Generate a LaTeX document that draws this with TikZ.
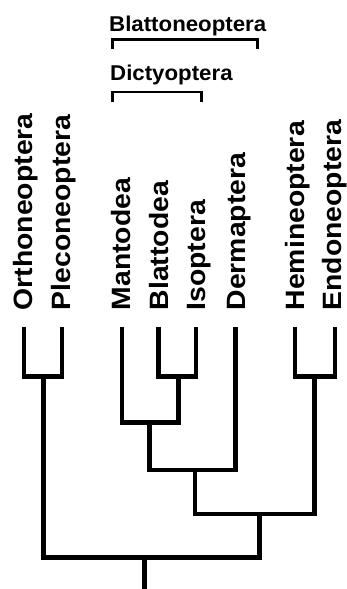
\documentclass[tikz,border=0pt]{standalone}
\usepackage{fontspec}
\setmainfont{Liberation Sans}
\begin{document}
\begin{tikzpicture}[x=1pt,y=-1pt,
  tree/.style={line width=4.6pt, line join=miter},
  brk/.style={line width=2.7pt, line join=miter},
  taxon/.style={rotate=90, anchor=base west, inner sep=0pt, font=\fontsize{26.5}{27}\selectfont\bfseries},
  clade/.style={anchor=base west, inner sep=0pt, font=\fontsize{21.4}{22}\selectfont\bfseries}]
\useasboundingbox (0,0) rectangle (347,589);
% taxon labels
\node[taxon] (lO) at (32.8,310.5) {\scalebox{1.07}[1]{Orthoneoptera}};
\node[taxon] (lP) at (70.8,310.5) {\scalebox{1.07}[1]{Pleconeoptera}};
\node[taxon] (lM) at (130.7,310.5) {\scalebox{1.07}[1]{Mantodea}};
\node[taxon] (lB) at (168,310.5) {\scalebox{1.07}[1]{Blattodea}};
\node[taxon] (lI) at (205,310.5) {\scalebox{1.07}[1]{Isoptera}};
\node[taxon] (lD) at (245.5,310.5) {\scalebox{1.07}[1]{Dermaptera}};
\node[taxon] (lH) at (304,310.5) {\scalebox{1.07}[1]{Hemineoptera}};
\node[taxon] (lE) at (341.2,310.5) {\scalebox{1.07}[1]{Endoneoptera}};
% clade labels
\node[clade] (cB) at (109,31.7) {\scalebox{1.04}[1]{Blattoneoptera}};
\node[clade] (cD) at (110,80.7) {\scalebox{1.04}[1]{Dictyoptera}};
% tips
\coordinate (tO) at (24,326.7);
\coordinate (tP) at (62,326.7);
\coordinate (tM) at (122,326.7);
\coordinate (tB) at (158.7,326.7);
\coordinate (tI) at (196,326.7);
\coordinate (tD) at (235.7,326.7);
\coordinate (tH) at (295,326.7);
\coordinate (tE) at (335,326.7);
% internal joins
\coordinate (jOP) at (43.3,376.7);
\coordinate (jBI) at (178.3,376.7);
\coordinate (jHE) at (314.3,376.7);
\coordinate (jMBI) at (149.7,422.3);
\coordinate (jMBID) at (195,470);
\coordinate (jMBIDHE) at (259.7,514);
\coordinate (jRoot) at (144.3,557.7);
\coordinate (root) at (144.3,589);
\draw[tree] (tO) |- (jOP) -| (tP);
\draw[tree] (tB) |- (jBI) -| (tI);
\draw[tree] (tH) |- (jHE) -| (tE);
\draw[tree] (tM) |- (jMBI) -| (jBI);
\draw[tree] (jMBI) |- (jMBID) -| (tD);
\draw[tree] (jMBID) |- (jMBIDHE) -| (jHE);
\draw[tree] (jOP) |- (jRoot) -| (jMBIDHE);
\draw[tree] (jRoot) -- (root);
% brackets
\coordinate (bBl) at (112.7,49);
\coordinate (bBtl) at (112.7,39.3);
\coordinate (bBtr) at (257.3,39.3);
\coordinate (bBr) at (257.3,48.5);
\coordinate (bDl) at (112.7,102);
\coordinate (bDtl) at (112.7,92);
\coordinate (bDtr) at (201.7,92);
\coordinate (bDr) at (201.7,102);
\draw[brk] (bBl) -- (bBtl) -- (bBtr) -- (bBr);
\draw[brk] (bDl) -- (bDtl) -- (bDtr) -- (bDr);
\end{tikzpicture}
\end{document}
